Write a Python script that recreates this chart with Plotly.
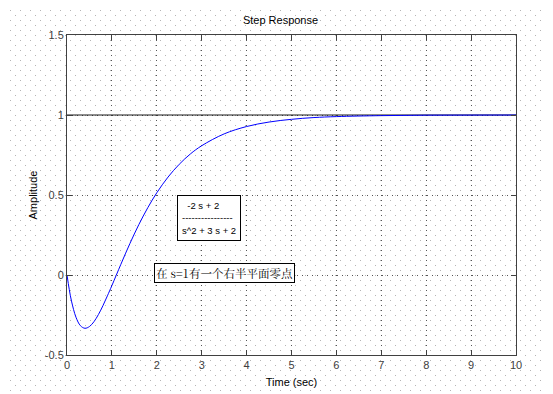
import plotly.graph_objects as go
import urllib.parse

# Step response samples
t_vals = [0, 0.05, 0.1, 0.2, 0.3, 0.4, 0.5, 0.6, 0.7, 0.8, 0.9, 1.0, 1.2, 1.4, 1.6, 1.8,
          2.0, 2.25, 2.5, 2.75, 3.0, 3.5, 4.0, 4.5, 5.0, 5.5, 6.0, 7.0, 8.0, 9.0, 10.0]
y_vals = [0, -0.090, -0.163, -0.264, -0.317, -0.333, -0.322, -0.292, -0.247, -0.192, -0.130,
          -0.066, 0.067, 0.196, 0.315, 0.421, 0.514, 0.612, 0.692, 0.757, 0.808, 0.882,
          0.928, 0.956, 0.973, 0.984, 0.990, 0.996, 0.999, 0.9995, 0.9998]
steady_x = [0, 10]
steady_y = [1, 1]

x_ticks = [0, 1, 2, 3, 4, 5, 6, 7, 8, 9, 10]
y_ticks = [-0.5, 0, 0.5, 1, 1.5]
y_tick_text = ["-0.5", "0", "0.5", "1", "1.5"]

title_text = "Step Response"
x_title = "Time (sec)"
y_title = "Amplitude"
tf_text = "&nbsp;&nbsp;-2 s + 2<br>----------------<br>s^2 + 3 s + 2"
note_text = "在 s=1有一个右半平面零点"

OFF = 8  # page body margin
W, H = 553 - OFF, 394 - OFF
L, R, T, B = 67 - OFF, 37, 35 - OFF, 39

svg = (f'<svg xmlns="http://www.w3.org/2000/svg" width="{W}" height="{H}">'
       '<defs><pattern id="p" x="2" y="2" width="10" height="10" patternUnits="userSpaceOnUse">'
       '<rect x="0" y="0" width="1" height="1" fill="#b4b4b4"/>'
       '<rect x="5" y="5" width="1" height="1" fill="#b4b4b4"/></pattern></defs>'
       f'<rect width="{W}" height="{H}" fill="#ffffff"/>'
       f'<rect width="{W}" height="{H}" fill="url(#p)"/></svg>')
svg_uri = "data:image/svg+xml;charset=utf-8," + urllib.parse.quote(svg)

pw = W - L - R
ph = H - T - B

fig = go.Figure()
fig.add_trace(go.Scatter(x=steady_x, y=steady_y, mode="lines",
                         line=dict(color="#1a1a1a", width=1.2), hoverinfo="skip"))
fig.add_trace(go.Scatter(x=t_vals, y=y_vals, mode="lines", line_shape="spline",
                         line=dict(color="#0000ff", width=1)))

axis_common = dict(
    automargin=False,
    showline=True, linecolor="#404040", linewidth=1, mirror="ticks",
    ticks="inside", ticklen=5, tickcolor="#404040",
    showgrid=True, gridcolor="#555555", griddash="1px,4px", gridwidth=1,
    zeroline=False, tickfont=dict(family="Liberation Sans, Arial", size=11, color="#404040"),
)

fig.update_layout(
    width=W, height=H,
    margin=dict(l=L, r=R, t=T, b=B),
    paper_bgcolor="rgba(0,0,0,0)", plot_bgcolor="rgba(0,0,0,0)",
    showlegend=False,
    images=[dict(source=svg_uri, xref="paper", yref="paper",
                 x=-L / pw, y=1 + T / ph, sizex=W / pw, sizey=H / ph,
                 xanchor="left", yanchor="top", sizing="stretch", layer="below")],
    title=dict(text=title_text, x=0.5, xanchor="center", y=1 - 12 / H, yanchor="middle",
               font=dict(family="Liberation Sans, Arial", size=11, color="#000000")),
    xaxis=dict(range=[0, 10], tickvals=x_ticks, ticktext=[str(v) for v in x_ticks],
               title=dict(text=x_title, standoff=8,
                          font=dict(family="Liberation Sans, Arial", size=11, color="#000000")),
               **axis_common),
    yaxis=dict(range=[-0.5, 1.5], tickvals=y_ticks, ticktext=y_tick_text,
               title=dict(text=y_title, standoff=4,
                          font=dict(family="Liberation Sans, Arial", size=11, color="#000000")),
               **axis_common),
    annotations=[
        dict(text=tf_text, x=2.45, y=0.5, xref="x", yref="y", xanchor="left", yanchor="top",
             showarrow=False, align="left", bordercolor="#000000", borderwidth=1,
             borderpad=4, bgcolor="#ffffff",
             font=dict(family="Liberation Sans, Arial", size=9.5, color="#000000")),
        dict(text=note_text, x=1.94, y=0.075, xref="x", yref="y", xanchor="left", yanchor="top",
             showarrow=False, align="left", bordercolor="#000000", borderwidth=1,
             borderpad=1, bgcolor="#ffffff",
             font=dict(family="Noto Serif CJK SC, Noto Sans CJK SC", size=11.5, color="#000000")),
    ],
)

fig.write_html("out.html")
